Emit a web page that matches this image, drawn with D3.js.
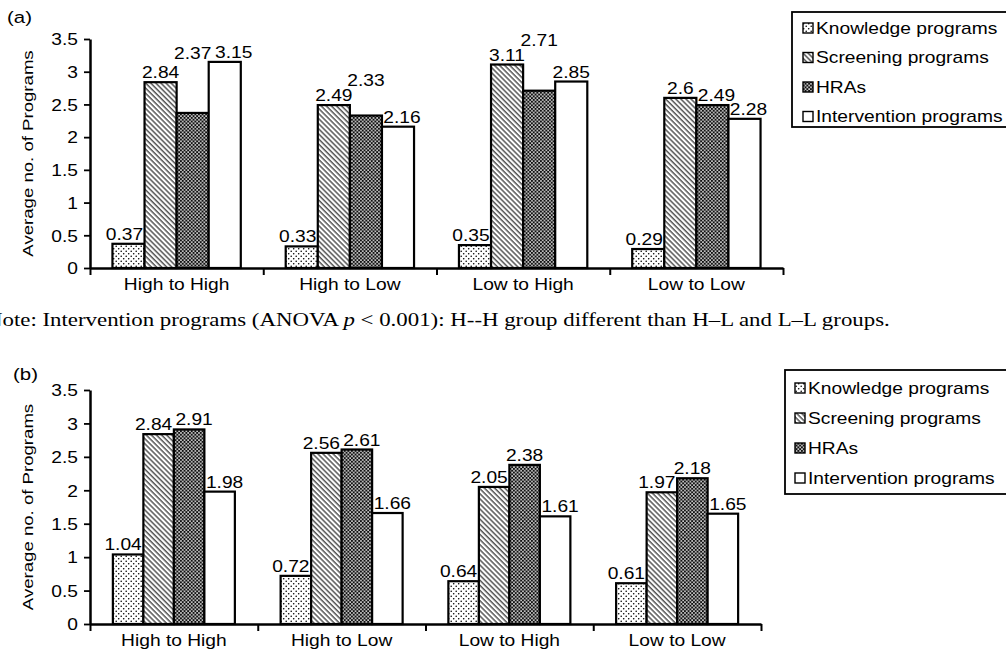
<!DOCTYPE html>
<html>
<head>
<meta charset="utf-8">
<script src="https://cdnjs.cloudflare.com/ajax/libs/d3/7.8.5/d3.min.js"></script>
<style>
  body { margin: 0; background: #fff; }
  svg { display: block; }
  text { font-family: "Liberation Sans", Arial, sans-serif; fill: #000; }
</style>
</head>
<body>
<div id="chart"></div>
<script>
const categories = ["High to High", "High to Low", "Low to High", "Low to Low"];
const seriesNames = ["Knowledge programs", "Screening programs", "HRAs", "Intervention programs"];
const yTicks = [0, 0.5, 1, 1.5, 2, 2.5, 3, 3.5];

// panel (a)
const knowledgeA = [0.37, 0.33, 0.35, 0.29];
const screeningA = [2.84, 2.49, 3.11, 2.6];
const hraA = [2.37, 2.33, 2.71, 2.49];
const interventionA = [3.15, 2.16, 2.85, 2.28];

// panel (b)
const knowledgeB = [1.04, 0.72, 0.64, 0.61];
const screeningB = [2.84, 2.56, 2.05, 1.97];
const hraB = [2.91, 2.61, 2.38, 2.18];
const interventionB = [1.98, 1.66, 1.61, 1.65];

const SX = 1.2; // the figure uses a wide sans face
const FS = 16;
const W = 1006, H = 655;

const svg = d3.select("#chart").append("svg")
    .attr("width", W)
    .attr("height", H);

// fill patterns
const defs = svg.append("defs");
let p = defs.append("pattern").attr("id", "pat0")
    .attr("patternUnits", "userSpaceOnUse").attr("width", 5).attr("height", 5);
p.append("rect").attr("width", 5).attr("height", 5).attr("fill", "#fff");
p.append("circle").attr("cx", 1.2).attr("cy", 1.2).attr("r", 0.8).attr("fill", "#000");
p.append("circle").attr("cx", 3.7).attr("cy", 3.7).attr("r", 0.8).attr("fill", "#000");

p = defs.append("pattern").attr("id", "pat1")
    .attr("patternUnits", "userSpaceOnUse").attr("width", 3.6).attr("height", 10)
    .attr("patternTransform", "rotate(-45)");
p.append("rect").attr("width", 3.6).attr("height", 10).attr("fill", "#fff");
p.append("line").attr("x1", 1).attr("x2", 1).attr("y1", 0).attr("y2", 10)
    .attr("stroke", "#000").attr("stroke-width", 1);

p = defs.append("pattern").attr("id", "pat2")
    .attr("patternUnits", "userSpaceOnUse").attr("width", 3.6).attr("height", 3.6);
p.append("rect").attr("width", 3.6).attr("height", 3.6).attr("fill", "#111");
p.append("rect").attr("x", 0.2).attr("y", 0.2).attr("width", 1.5).attr("height", 1.5).attr("fill", "#fff");
p.append("rect").attr("x", 2).attr("y", 2).attr("width", 1.5).attr("height", 1.5).attr("fill", "#fff");

const fills = ["url(#pat0)", "url(#pat1)", "url(#pat2)", "#fff"];

function wtext(g, x, y, str, size, anchor) {
  return g.append("text")
      .attr("transform", "translate(" + x + "," + y + ") scale(" + SX + ",1)")
      .attr("text-anchor", anchor || "start")
      .style("font-size", size + "px")
      .text(str);
}

function drawPanel(cfg) {
  const g = svg.append("g");
  const data = cfg.series;

  const x = d3.scaleBand().domain(categories).range([cfg.x0, cfg.x1]);
  const xs = d3.scaleBand().domain(seriesNames).range([0, x.bandwidth()])
      .paddingOuter(cfg.pad);
  const xTick = d3.scaleLinear().domain([0, categories.length]).range([cfg.x0, cfg.x1]);
  const y = d3.scaleLinear().domain([0, 3.5]).range([cfg.yBottom, cfg.yTop]);

  // bars
  const bars = [];
  categories.forEach((c, ci) => {
    seriesNames.forEach((s, si) => {
      const v = data[si][ci];
      bars.push({ci: ci, si: si, v: v, x: x(c) + xs(s), w: xs.bandwidth(), top: y(v)});
    });
  });

  g.selectAll("rect.bar")
    .data(bars)
    .enter().append("rect")
      .attr("class", "bar")
      .attr("x", d => d.x)
      .attr("y", d => d.top)
      .attr("width", d => d.w)
      .attr("height", d => y(0) - d.top)
      .attr("fill", d => fills[d.si])
      .attr("stroke", "#000")
      .attr("stroke-width", 2.2);

  // value labels, moved to keep clear of bars and other labels
  const placed = [];
  const labG = g.append("g");
  function hitBars(l, r, t, b) {
    return bars.some(d => l < d.x + d.w && r > d.x && b > d.top && t < y(0));
  }
  function hitLabels(l, r, t, b) {
    return placed.filter(o => l < o.r + 1 && r > o.l - 1 && b > o.t && t < o.b);
  }
  bars.forEach(d => {
    const t = wtext(labG, 0, 0, String(d.v), FS, "middle");
    const w = t.node().getComputedTextLength() * SX + 2;
    const cx = d.x + d.w / 2;
    let base = d.top - 4;
    const box = (s, bs) => [cx + s - w / 2, cx + s + w / 2, bs - 12, bs + 1];
    let shift = null;
    for (let k = 0; k <= 6 && shift === null; k++) {
      for (const s of (k === 0 ? [0] : [-k, k])) {
        if (!hitBars(...box(s, base))) { shift = s; break; }
      }
    }
    let done = false;
    if (shift !== null) {
      const hits = hitLabels(...box(shift, base));
      if (hits.length === 0) done = true;
      else if (hits.every(o => Math.abs(o.base - base) < 6)) {
        const dir = hits[0].cx < cx ? 1 : -1;
        for (let k = Math.abs(shift); k <= 12; k++) {
          const bx = box(dir * k, base);
          if (!hitBars(...bx) && hitLabels(...bx).length === 0) { shift = dir * k; done = true; break; }
        }
      }
    }
    if (!done) {
      shift = 0;
      for (let it = 0; it < 10; it++) {
        const [l, r, tt, b] = box(0, base);
        const tops = bars.filter(o => l < o.x + o.w && r > o.x && b > o.top && tt < y(0)).map(o => o.top)
          .concat(hitLabels(l, r, tt, b).map(o => o.t));
        if (!tops.length) break;
        base = d3.min(tops) - 3;
      }
    }
    const bx = box(shift, base);
    placed.push({l: bx[0], r: bx[1], t: bx[2], b: bx[3], base: base, cx: cx + shift});
    t.attr("transform", "translate(" + (cx + shift) + "," + base + ") scale(" + SX + ",1)");
  });

  // y axis
  const yAxis = g.append("g")
      .attr("transform", "translate(" + cfg.x0 + ",0)")
      .call(d3.axisLeft(y).tickValues(yTicks).tickFormat(d => d).tickSize(6).tickSizeOuter(0));
  yAxis.select(".domain").attr("stroke-width", 2.5);
  yAxis.selectAll(".tick line").attr("stroke-width", 1.8);
  yAxis.selectAll(".tick text")
      .attr("x", null).attr("dy", "0.36em")
      .attr("transform", "translate(-12,0) scale(" + SX + ",1)")
      .style("font-size", FS + "px")
      .attr("font-family", null);

  // x axis with ticks between categories
  const xAxis = g.append("g")
      .attr("transform", "translate(0," + cfg.yBottom + ")")
      .call(d3.axisBottom(xTick).tickValues(d3.range(categories.length + 1))
        .tickFormat("").tickSize(7).tickSizeOuter(0));
  xAxis.select(".domain").attr("stroke-width", 2.5);
  xAxis.selectAll(".tick line").attr("stroke-width", 2);

  categories.forEach(c => {
    wtext(g, x(c) + x.bandwidth() / 2, cfg.yBottom + 22, c, FS, "middle");
  });

  // axis title and panel tag
  g.append("text")
      .attr("transform", "translate(33," + (cfg.yBottom + cfg.yTop) / 2 + ") rotate(-90) scale(" + SX + ",1)")
      .attr("text-anchor", "middle")
      .style("font-size", "15.5px")
      .text("Average no. of Programs");
  wtext(g, cfg.tagX, cfg.tagY, cfg.tag, 17, "start");

  // legend
  const lg = g.append("g");
  lg.append("rect")
      .attr("x", cfg.legX).attr("y", cfg.legY)
      .attr("width", 240).attr("height", cfg.legH)
      .attr("fill", "#fff").attr("stroke", "#000").attr("stroke-width", 1.8);
  seriesNames.forEach((s, i) => {
    const cy = cfg.legRow0 + i * cfg.legStep;
    lg.append("rect")
        .attr("x", cfg.legText - 13).attr("y", cy - 5)
        .attr("width", 10).attr("height", 10)
        .attr("fill", fills[i]).attr("stroke", "#000").attr("stroke-width", 1.4);
    wtext(lg, cfg.legText, cy + 5.5, s, FS, "start");
  });
}

drawPanel({
  tag: "(a)", tagX: 7, tagY: 23,
  series: [knowledgeA, screeningA, hraA, interventionA],
  x0: 90, x1: 783, yBottom: 268, yTop: 39, pad: 0.7,
  legX: 792, legY: 12, legH: 115, legText: 816, legRow0: 28, legStep: 29.5
});

drawPanel({
  tag: "(b)", tagX: 13, tagY: 380,
  series: [knowledgeB, screeningB, hraB, interventionB],
  x0: 90, x1: 761, yBottom: 624, yTop: 390, pad: 0.75,
  legX: 785, legY: 370, legH: 124, legText: 808, legRow0: 388, legStep: 30
});

// note under panel (a)
const note = svg.append("text")
    .attr("transform", "translate(-14,326) scale(" + 1.27 + ",1)")
    .style("font-family", "'Liberation Serif', 'Times New Roman', serif")
    .style("font-size", "18px");
note.append("tspan").text("Note:  Intervention programs (ANOVA ");
note.append("tspan").style("font-style", "italic").text("p");
note.append("tspan").text(" < 0.001): H--H group different than H\u2013L and L\u2013L groups.");
</script>
</body>
</html>
